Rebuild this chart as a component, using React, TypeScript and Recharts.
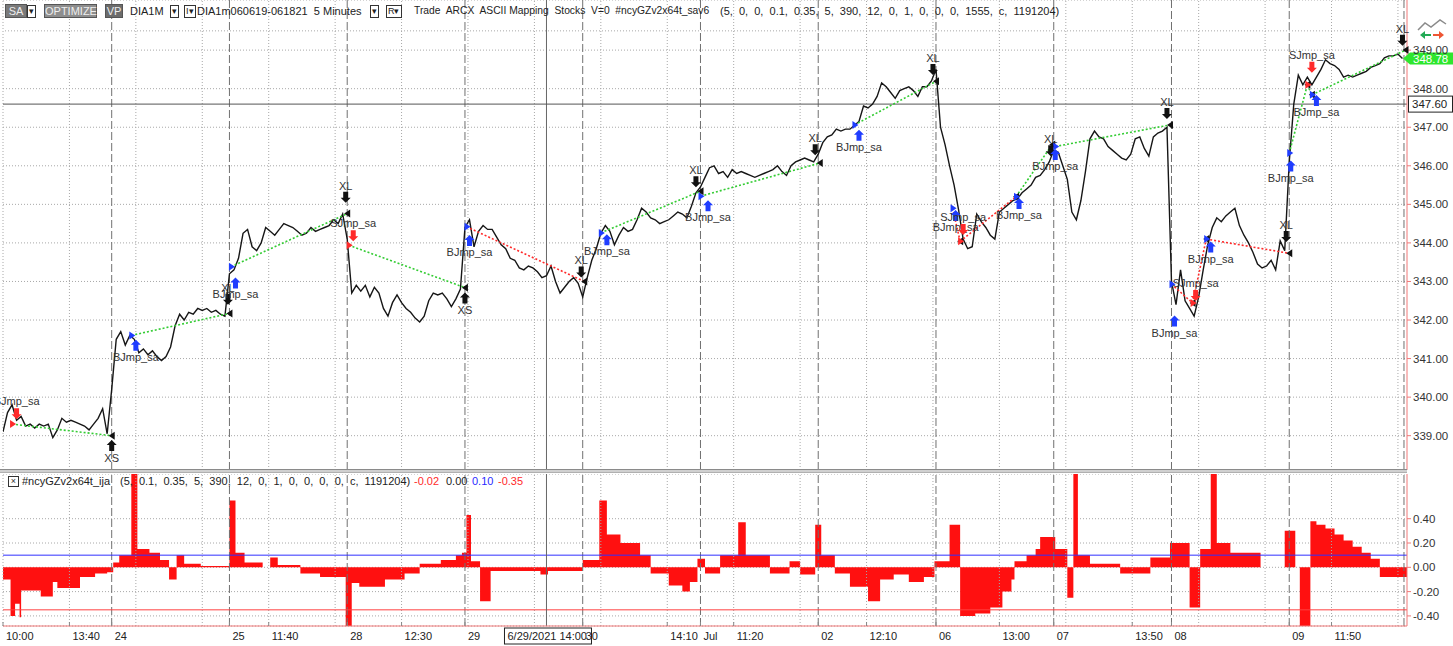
import React from 'react';
import { ComposedChart, Line, Area, XAxis, YAxis, CartesianGrid, ReferenceLine, ReferenceDot } from 'recharts';

const FONT = 'Arial, "Liberation Sans", sans-serif';

// first 5-minute bar of every session (x axis runs in bars)
const dayStarts = [0, 72, 150, 228, 306, 384, 462, 540, 618, 696, 774, 852];
const sessionEnd = 930;

// DIA closes, one value every 3 bars
const jun23 = [339.1, 339.6, 339.8, 339.4, 339.5, 339.25, 339.3, 339.2, 339.3, 339.25, 339.3, 338.95, 339.15, 339.45, 339.35, 339.4, 339.35, 339.3, 339.25, 339.15, 339.3, 339.45, 339.7, 339.05];
const jun24 = [340.2, 341.5, 341.7, 341.35, 341.6, 341.5, 341.15, 341.25, 341.1, 341.2, 341.05, 340.95, 341.05, 341.3, 341.85, 342.15, 342.0, 342.2, 342.15, 342.3, 342.25, 342.3, 342.2, 342.25, 342.15, 342.1];
const jun25 = [343.2, 343.3, 343.6, 344.25, 344.35, 343.9, 343.8, 344.0, 344.4, 344.3, 344.2, 344.35, 344.5, 344.45, 344.4, 344.3, 344.2, 344.25, 344.4, 344.3, 344.35, 344.4, 344.45, 344.6, 344.5, 344.75];
const jun28 = [344.1, 342.7, 342.9, 342.75, 342.9, 342.6, 342.85, 342.7, 342.3, 342.1, 342.45, 342.65, 342.45, 342.3, 342.2, 342.05, 341.95, 342.1, 342.5, 342.7, 342.65, 342.7, 342.55, 342.35, 342.55, 342.8];
const jun29 = [344.4, 344.6, 343.9, 344.3, 344.45, 344.35, 344.35, 344.15, 343.95, 343.85, 343.6, 343.55, 343.35, 343.3, 343.4, 343.35, 343.25, 343.1, 343.15, 343.4, 343.0, 342.7, 342.85, 343.0, 343.1, 342.95];
const jun30 = [342.6, 343.1, 343.55, 343.85, 344.25, 344.45, 344.3, 343.95, 344.2, 344.4, 344.3, 344.35, 344.6, 344.9, 344.8, 344.65, 344.6, 344.5, 344.55, 344.6, 344.7, 344.8, 344.75, 344.65, 344.95, 345.3];
const jul01 = [345.45, 345.7, 345.95, 346.0, 345.8, 345.85, 345.7, 345.9, 345.8, 345.85, 345.8, 345.75, 345.7, 345.75, 345.8, 345.85, 345.9, 346.0, 345.85, 345.75, 346.0, 346.1, 346.15, 346.2, 346.15, 346.1];
const jul02 = [346.3, 346.6, 346.75, 346.8, 346.95, 346.9, 346.95, 346.95, 347.05, 347.15, 347.55, 347.5, 347.6, 347.8, 348.15, 348.05, 347.9, 347.75, 347.95, 348.0, 348.05, 347.95, 347.8, 348.05, 348.05, 348.2];
const jul06 = [348.5, 347.0, 346.55, 346.0, 345.5, 344.85, 344.1, 343.85, 343.9, 344.75, 344.55, 344.4, 344.2, 344.1, 344.8, 344.9, 345.0, 345.1, 345.15, 345.3, 345.4, 345.5, 345.7, 345.75, 345.9, 346.1];
const jul07 = [346.4, 346.35, 346.0, 345.65, 344.8, 344.6, 345.1, 345.85, 346.7, 346.9, 346.75, 346.7, 346.5, 346.4, 346.3, 346.2, 346.15, 346.3, 346.7, 346.75, 346.45, 346.25, 346.75, 346.85, 346.9, 347.0];
const jul08 = [343.0, 342.4, 343.3, 342.5, 342.3, 342.1, 342.6, 343.3, 343.95, 344.4, 344.65, 344.55, 344.7, 344.8, 344.9, 344.45, 344.2, 344.0, 343.75, 343.45, 343.35, 343.4, 343.55, 343.3, 344.05, 343.8];
const jul09 = [346.1, 347.6, 348.35, 348.1, 348.3, 348.1, 348.3, 348.5, 348.75, 348.65, 348.6, 348.5, 348.3, 348.35, 348.3, 348.35, 348.4, 348.45, 348.55, 348.6, 348.65, 348.8, 348.85, 348.85, 348.9, 348.78];
const sessions = [jun23, jun24, jun25, jun28, jun29, jun30, jul01, jul02, jul06, jul07, jul08, jul09];

// indicator histogram: [bar, value] steps
const oscJune = [
  [0, -0.1], [5, -0.4], [8, -0.3], [11, -0.41], [12, -0.19], [25, -0.24], [33, -0.12], [36, -0.17], [51, -0.08], [61, -0.05],
  [69, -0.04], [73, 0.04], [77, 0.1], [85, 0.77], [89, 0.15], [97, 0.12], [104, 0.06], [110, -0.1], [115, 0.1], [120, 0.03],
  [131, 0.01], [150, 0.55], [154, 0.12], [160, 0.04], [172, 0.0], [177, 0.08], [182, 0.02], [197, -0.05], [210, -0.08],
  [227, -0.5], [231, -0.13], [236, -0.16], [253, -0.1], [266, -0.05], [276, 0.03], [290, 0.06], [300, 0.1], [304, 0.12],
  [307, 0.43], [310, 0.05], [316, -0.28], [323, -0.03], [356, -0.06], [361, -0.03],
];
const oscJuly = [
  [384, 0.06], [395, 0.55], [400, 0.27], [409, 0.2], [422, 0.1], [429, -0.05], [441, -0.15], [450, -0.2], [455, -0.12], [460, 0.07],
  [465, -0.05], [475, 0.1], [487, 0.37], [492, 0.1], [508, -0.05], [521, 0.05], [528, -0.06], [538, 0.35], [542, 0.1],
  [551, -0.05], [561, -0.16], [573, -0.28], [581, -0.1], [590, -0.06], [600, -0.12], [610, -0.08], [617, 0.05], [627, 0.35],
  [634, -0.4], [644, -0.38], [654, -0.33], [662, -0.2], [668, -0.1], [670, 0.05], [678, 0.1], [684, 0.15], [687, 0.25],
  [697, 0.15], [705, -0.25], [709, 0.77], [712, 0.1], [720, 0.03], [740, -0.05], [760, 0.08], [773, 0.2], [786, -0.33],
  [793, 0.15], [800, 0.77], [804, 0.2], [813, 0.12], [833, 0.0], [849, 0.3], [856, 0.0], [859, -0.5], [866, 0.38],
  [870, 0.35], [876, 0.32], [882, 0.27], [888, 0.22], [894, 0.17], [900, 0.12], [906, 0.07], [912, -0.08], [930, -0.08],
];

type Side = 'long' | 'short';
const trades: { side: Side; inT: number; inP: number; outT: number; outP: number }[] = [
  { side: 'short', inT: 6, inP: 339.3, outT: 72, outP: 339.0 },
  { side: 'long', inT: 85, inP: 341.6, outT: 150, outP: 342.17 },
  { side: 'long', inT: 151, inP: 343.38, outT: 228, outP: 344.76 },
  { side: 'short', inT: 229, inP: 343.94, outT: 306, outP: 342.84 },
  { side: 'long', inT: 307, inP: 344.42, outT: 385, outP: 343.0 },
  { side: 'long', inT: 396, inP: 344.26, outT: 462, outP: 345.34 },
  { side: 'long', inT: 462, inP: 345.21, outT: 541, outP: 346.07 },
  { side: 'long', inT: 564, inP: 347.06, outT: 618, outP: 348.19 },
  { side: 'long', inT: 629, inP: 344.9, outT: 634, outP: 344.04 },
  { side: 'short', inT: 634, inP: 344.04, outT: 671, outP: 345.2 },
  { side: 'long', inT: 671, inP: 345.2, outT: 695, outP: 346.55 },
  { side: 'long', inT: 697, inP: 346.5, outT: 773, outP: 347.06 },
  { side: 'long', inT: 774, inP: 342.93, outT: 788, outP: 342.44 },
  { side: 'short', inT: 788, inP: 342.44, outT: 797, outP: 344.1 },
  { side: 'long', inT: 797, inP: 344.1, outT: 852, outP: 343.73 },
  { side: 'long', inT: 852, inP: 346.33, outT: 864, outP: 348.1 },
  { side: 'short', inT: 864, inP: 348.1, outT: 867, outP: 347.84 },
  { side: 'long', inT: 867, inP: 347.84, outT: 929, outP: 349.0 },
];

type Kind = 'buy' | 'sell' | 'xl' | 'xs';
const signals: { kind: Kind; t: number; price: number; label: string }[] = [
  { kind: 'sell', t: 9, price: 339.58, label: 'SJmp_sa' },
  { kind: 'xs', t: 72, price: 338.73, label: 'XS' },
  { kind: 'buy', t: 88, price: 341.33, label: 'BJmp_sa' },
  { kind: 'xl', t: 149, price: 342.55, label: 'XL' },
  { kind: 'buy', t: 154, price: 342.95, label: 'BJmp_sa' },
  { kind: 'xl', t: 227, price: 345.2, label: 'XL' },
  { kind: 'sell', t: 232, price: 344.2, label: 'SJmp_sa' },
  { kind: 'xs', t: 306, price: 342.56, label: 'XS' },
  { kind: 'buy', t: 309, price: 344.05, label: 'BJmp_sa' },
  { kind: 'xl', t: 383, price: 343.26, label: 'XL' },
  { kind: 'buy', t: 400, price: 344.07, label: 'BJmp_sa' },
  { kind: 'xl', t: 459, price: 345.6, label: 'XL' },
  { kind: 'buy', t: 467, price: 344.95, label: 'BJmp_sa' },
  { kind: 'xl', t: 538, price: 346.43, label: 'XL' },
  { kind: 'buy', t: 567, price: 346.78, label: 'BJmp_sa' },
  { kind: 'xl', t: 616, price: 348.51, label: 'XL' },
  { kind: 'buy', t: 631, price: 344.7, label: 'BJmp_sa' },
  { kind: 'sell', t: 636, price: 344.36, label: 'SJmp_sa' },
  { kind: 'buy', t: 673, price: 345.01, label: 'BJmp_sa' },
  { kind: 'xl', t: 694, price: 346.4, label: 'XL' },
  { kind: 'buy', t: 697, price: 346.28, label: 'BJmp_sa' },
  { kind: 'xl', t: 771, price: 347.37, label: 'XL' },
  { kind: 'buy', t: 776, price: 341.96, label: 'BJmp_sa' },
  { kind: 'sell', t: 790, price: 342.65, label: 'SJmp_sa' },
  { kind: 'buy', t: 800, price: 343.88, label: 'BJmp_sa' },
  { kind: 'xl', t: 850, price: 344.18, label: 'XL' },
  { kind: 'buy', t: 853, price: 345.98, label: 'BJmp_sa' },
  { kind: 'sell', t: 867, price: 348.57, label: 'SJmp_sa' },
  { kind: 'buy', t: 870, price: 347.68, label: 'BJmp_sa' },
  { kind: 'xl', t: 927, price: 349.27, label: 'XL' },
];

const timeTicks = [0, 44, 72, 150, 176, 228, 264, 306, 384, 440, 462, 484, 540, 572, 618, 660, 696, 748, 774, 852, 880];
const timeLabels = ['10:00', '13:40', '24', '25', '11:40', '28', '12:30', '29', '30', '14:10', 'Jul', '11:20', '02', '12:10', '06', '13:00', '07', '13:50', '08', '09', '11:50'];
const gridTimes = [0, 44, 88, 132, 176, 220, 264, 308, 352, 396, 440, 484, 528, 572, 616, 660, 704, 748, 792, 836, 880, 924];
const priceTicks = [338.5, 339, 339.5, 340, 340.5, 341, 341.5, 342, 342.5, 343, 343.5, 344, 344.5, 345, 345.5, 346, 346.5, 347, 347.5, 348, 348.5, 349];
const oscTicks = [-0.4, -0.2, 0, 0.2, 0.4];

const lastPrice = 348.78;
const cursorPrice = 347.6;
const cursorT = 360;
const cursorLabel = '6/29/2021 14:00';

const priceData = sessions.flatMap((closes, d) => closes.map((price, i) => ({ t: dayStarts[d] + i * 3, price })));
const oscData = [...oscJune, ...oscJuly].map(([t, v]) => ({ t, v }));

const GRID = '#a8a8a8';
const DAYLINE = '#707070';
const AXIS_RED = '#f07878';
const GAIN = '#33cc33';
const LOSS = '#ff2a2a';
const BLUE = '#1f3dff';

const fills: Record<Kind, string> = { buy: BLUE, sell: LOSS, xl: '#111', xs: '#111' };

const SignalMark = (props: any) => {
  const { cx, cy, kind, label } = props;
  const s = kind === 'buy' || kind === 'xs' ? 1 : -1;
  const d = `M${cx},${cy - 6 * s} L${cx + 5},${cy - s} L${cx + 2.5},${cy - s} L${cx + 2.5},${cy + 5 * s} L${cx - 2.5},${cy + 5 * s} L${cx - 2.5},${cy - s} L${cx - 5},${cy - s} Z`;
  const ly = kind === 'buy' ? cy + 15 : kind === 'xs' ? cy + 16 : kind === 'sell' ? cy - 8 : cy - 7;
  return (
    <g>
      <path d={d} fill={fills[kind as Kind]} />
      <text x={cx} y={ly} textAnchor="middle" fontSize={11} fill="#333">{label}</text>
    </g>
  );
};

const EntryMark = (props: any) => {
  const { cx, cy, color } = props;
  return <path d={`M${cx - 2},${cy - 4} L${cx + 4},${cy} L${cx - 2},${cy + 4} Z`} fill={color} />;
};

const ExitMark = (props: any) => {
  const { cx, cy } = props;
  return <path d={`M${cx + 3},${cy - 4} L${cx - 3},${cy} L${cx + 3},${cy + 4} Z`} fill="#111" />;
};

const LastPriceTag = (props: any) => {
  const { cx, cy } = props;
  return (
    <g>
      <path d={`M${cx - 4},${cy} L${cx + 3},${cy - 6} L${cx + 47},${cy - 6} L${cx + 47},${cy + 6} L${cx + 3},${cy + 6} Z`} fill="#2ee62e" />
      <text x={cx + 6} y={cy + 4} fontSize={11.5} fill="#fff">{lastPrice.toFixed(2)}</text>
    </g>
  );
};

const CursorPriceTag = (props: any) => {
  const { cx, cy } = props;
  return (
    <g>
      <rect x={cx + 1.5} y={cy - 8} width={44} height={16} fill="#fff" stroke="#222" />
      <text x={cx + 5} y={cy + 4} fontSize={11.5} fill="#222">{cursorPrice.toFixed(2)}</text>
    </g>
  );
};

const CursorTimeTag = (props: any) => {
  const { cx, cy } = props;
  return (
    <g>
      <rect x={cx - 42} y={cy + 2} width={87} height={16} fill="#fff" stroke="#222" />
      <text x={cx - 39} y={cy + 14} fontSize={11} fill="#222">{cursorLabel}</text>
    </g>
  );
};

// price labels; the one hidden under the cursor tag is skipped
const PriceTick = (props: any) => {
  const { x, y, payload } = props;
  if (Math.abs(payload.value - cursorPrice) < 0.15) return null;
  return (
    <text x={x} y={y + 4} fontSize={11.5} fill="#333">{payload.value.toFixed(2)}</text>
  );
};

const TimeTick = (props: any) => {
  const { x, y, payload } = props;
  const i = timeTicks.indexOf(payload.value);
  return (
    <text x={x + 3} y={y + 18} fontSize={11} fill="#222">{timeLabels[i]}</text>
  );
};

const Btn = ({ left, width, text, bg }: { left: number; width: number; text: string; bg: string }) => (
  <div style={{ position: 'absolute', left, top: 4, width, height: 14, background: bg, border: '1px solid #555', color: '#eee', fontSize: 11, lineHeight: '12px', textAlign: 'center', boxSizing: 'border-box' }}>{text}</div>
);

const Drop = ({ left, text }: { left: number; text: string }) => (
  <div style={{ position: 'absolute', left, top: 5, height: 11, padding: '0 1px', background: '#fff', border: '1px solid #333', color: '#222', fontSize: 9, lineHeight: '11px' }}>{text}</div>
);

const label = (left: number, top: number, text: string, color = '#222', size = 11) => (
  <div style={{ position: 'absolute', left, top, fontSize: size, color, whiteSpace: 'pre', lineHeight: '14px' }}>{text}</div>
);

const dayLines = (chartKey: string) =>
  [...dayStarts.slice(1), sessionEnd - 2].map((t) => (
    <ReferenceLine key={`${chartKey}d${t}`} x={t} stroke={DAYLINE} strokeDasharray="8 3" ifOverflow="extendDomain" />
  ));

const gridLines = (chartKey: string) =>
  gridTimes.map((t) => <ReferenceLine key={`${chartKey}g${t}`} x={t} stroke={GRID} strokeDasharray="1 2" />);

export default function App() {
  return (
    <div style={{ position: 'absolute', left: 0, top: 0, width: 1453, height: 646, background: '#fff', fontFamily: FONT, overflow: 'hidden' }}>
      <div style={{ position: 'absolute', left: 0, top: 0 }}>
        <ComposedChart width={1453} height={470} data={priceData} margin={{ top: 0, right: 0, bottom: 0, left: 3 }}>
          <CartesianGrid horizontal vertical={false} stroke={GRID} strokeDasharray="1 2" />
          <XAxis dataKey="t" type="number" domain={[0, sessionEnd]} hide allowDataOverflow />
          <YAxis
            orientation="right"
            width={46}
            domain={[338.11, 350.3]}
            ticks={priceTicks}
            allowDataOverflow
            axisLine={{ stroke: AXIS_RED }}
            tickLine={{ stroke: AXIS_RED }}
            tickSize={4}
            tick={<PriceTick />}
          />
          <ReferenceLine y={349.5} stroke={GRID} strokeDasharray="1 2" />
          {gridLines('p')}
          {dayLines('p')}
          <ReferenceLine x={cursorT} stroke="#666" />
          <ReferenceLine y={cursorPrice} stroke="#555" />
          <Line type="linear" dataKey="price" stroke="#161616" strokeWidth={1.4} dot={false} isAnimationActive={false} />
          {trades.map((tr, i) => {
            const win = tr.side === 'long' ? tr.outP > tr.inP : tr.outP < tr.inP;
            return (
              <ReferenceLine
                key={`tr${i}`}
                segment={[{ x: tr.inT, y: tr.inP }, { x: tr.outT, y: tr.outP }]}
                stroke={win ? GAIN : LOSS}
                strokeWidth={1.6}
                strokeDasharray="2 2"
              />
            );
          })}
          {trades.map((tr, i) => (
            <ReferenceDot key={`ex${i}`} x={tr.outT} y={tr.outP} r={3} shape={(p: any) => <ExitMark {...p} />} />
          ))}
          {trades.map((tr, i) => (
            <ReferenceDot key={`en${i}`} x={tr.inT} y={tr.inP} r={3} shape={(p: any) => <EntryMark {...p} color={tr.side === 'long' ? BLUE : LOSS} />} />
          ))}
          {signals.map((s, i) => (
            <ReferenceDot key={`sg${i}`} x={s.t} y={s.price} r={5} shape={(p: any) => <SignalMark {...p} kind={s.kind} label={s.label} />} />
          ))}
          <ReferenceDot x={sessionEnd} y={cursorPrice} r={1} ifOverflow="visible" shape={(p: any) => <CursorPriceTag {...p} />} />
          <ReferenceDot x={sessionEnd} y={lastPrice} r={1} ifOverflow="visible" shape={(p: any) => <LastPriceTag {...p} />} />
        </ComposedChart>
      </div>

      <div style={{ position: 'absolute', left: 0, top: 469, width: 1407, height: 2, background: '#d0d0d0', borderTop: '1px solid #8a8a8a', borderBottom: '1px solid #b0b0b0' }} />

      <div style={{ position: 'absolute', left: 0, top: 474 }}>
        <ComposedChart width={1453} height={172} data={oscData} margin={{ top: 0, right: 0, bottom: 0, left: 3 }}>
          <CartesianGrid horizontal vertical={false} stroke={GRID} strokeDasharray="1 2" />
          <XAxis
            dataKey="t"
            type="number"
            domain={[0, sessionEnd]}
            ticks={timeTicks}
            interval={0}
            height={20}
            allowDataOverflow
            axisLine={{ stroke: AXIS_RED }}
            tickLine={{ stroke: '#888' }}
            tickSize={-4}
            tickMargin={0}
            tick={<TimeTick />}
          />
          <YAxis
            orientation="right"
            width={46}
            domain={[-0.483, 0.768]}
            ticks={oscTicks}
            allowDataOverflow
            axisLine={{ stroke: AXIS_RED }}
            tickLine={{ stroke: AXIS_RED }}
            tickSize={4}
            tick={{ fill: '#333', fontSize: 11.5 }}
            tickFormatter={(v: number) => v.toFixed(2)}
          />
          {gridLines('o')}
          {dayLines('o')}
          <Area type="stepAfter" dataKey="v" stroke="none" fill="#ff1010" fillOpacity={1} baseValue={0} isAnimationActive={false} />
          <ReferenceLine y={0.1} stroke="#3030ff" />
          <ReferenceLine y={-0.35} stroke="#ff4040" />
          <ReferenceLine x={cursorT} stroke="#666" />
          <ReferenceDot x={cursorT} y={-0.483} r={1} ifOverflow="visible" shape={(p: any) => <CursorTimeTag {...p} />} />
        </ComposedChart>
      </div>

      {/* toolbar */}
      <Btn left={5} width={22} text="SA" bg="#7a7a7a" />
      <Drop left={27} text="▾" />
      <Btn left={44} width={53} text="OPTIMIZE" bg="#8e8e8e" />
      <Btn left={105} width={18} text="VP" bg="#6c6c6c" />
      {label(130, 4, 'DIA1M')}
      <Drop left={170} text="▾" />
      <Drop left={184} text="I▾" />
      {label(197, 4, 'DIA1m060619-061821  5 Minutes')}
      <Drop left={370} text="▾" />
      <Drop left={386} text="R▾" />
      {label(414, 4, 'Trade  ARCX  ASCII Mapping  Stocks  V=0  #ncyGZv2x64t_sav6', '#222', 10.3)}
      {label(720, 4, '(5,  0,  0,  0.1,  0.35,  5,  390,  12,  0,  1,  0,  0,  0,  1555,  c,  1191204)')}

      {/* chart icon */}
      <svg style={{ position: 'absolute', left: 1416, top: 18 }} width={32} height={22}>
        <polyline points="2,12 9,5 15,9 24,2 30,6" fill="none" stroke="#8a8a8a" strokeWidth={1.5} />
        <path d="M4,17 L9,13 L9,21 Z" fill="#22aa55" />
        <path d="M9,16 L15,16 L15,18 L9,18 Z" fill="#22aa55" />
        <path d="M28,17 L23,13 L23,21 Z" fill="#ee5533" />
        <path d="M17,16 L23,16 L23,18 L17,18 Z" fill="#ee5533" />
      </svg>

      {/* indicator header */}
      <div style={{ position: 'absolute', left: 8, top: 476, width: 9, height: 9, border: '1px solid #333', fontSize: 9, lineHeight: '9px', textAlign: 'center', color: '#333', background: '#fff' }}>×</div>
      {label(22, 474, '#ncyGZv2x64t_ija')}
      {label(120, 474, '(5,  0.1,  0.35,  5,  390,  12,  0,  1,  0,  0,  0,  0,  c,  1191204)')}
      {label(414, 474, '-0.02', '#ff2a2a')}
      {label(446, 474, '0.00')}
      {label(472, 474, '0.10', '#2a2aff')}
      {label(498, 474, '-0.35', '#ff2a2a')}
    </div>
  );
}
